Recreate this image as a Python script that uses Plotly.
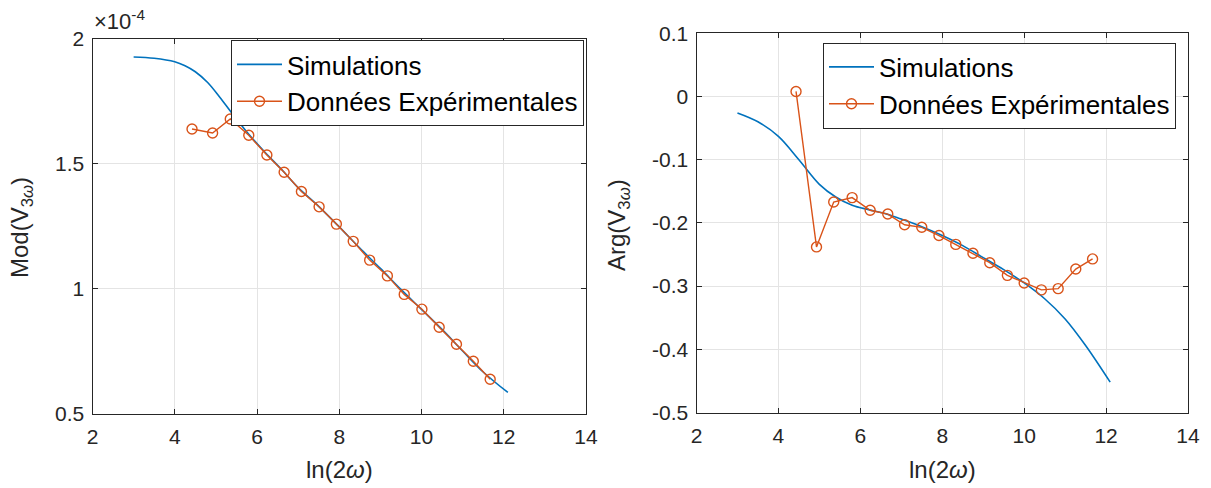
import plotly.graph_objects as go

# ---------------- data ----------------
# experimental abscissa ln(2*omega)
x_exp = [4.42, 4.92, 5.35, 5.80, 6.24, 6.66, 7.08, 7.51, 7.93, 8.34,
         8.74, 9.17, 9.58, 10.01, 10.43, 10.85, 11.26, 11.67]
# modulus (in units of 1e-4)
mod_exp = [1.639, 1.623, 1.679, 1.614, 1.535, 1.466, 1.389, 1.328, 1.259, 1.190,
           1.115, 1.052, 0.978, 0.919, 0.847, 0.779, 0.711, 0.639]
# argument
x_exp_arg = [4.43, 4.93, 5.35, 5.80, 6.24, 6.67, 7.08, 7.50, 7.92, 8.33,
             8.75, 9.16, 9.59, 10.00, 10.42, 10.83, 11.26, 11.67]
arg_exp = [0.008, -0.238, -0.167, -0.160, -0.180, -0.186, -0.203, -0.207, -0.220, -0.234,
           -0.248, -0.263, -0.283, -0.295, -0.306, -0.304, -0.273, -0.257]

# simulations
x_sim_mod = [3.0, 3.5, 4.0, 4.25, 4.5, 4.8, 5.1, 5.4, 5.8, 6.2, 6.6, 7.0, 7.5, 8.0,
             8.5, 9.0, 9.5, 10.0, 10.5, 11.0, 11.5, 12.1]
mod_sim = [1.927, 1.922, 1.908, 1.892, 1.868, 1.825, 1.765, 1.700, 1.618, 1.545, 1.477,
           1.405, 1.330, 1.248, 1.163, 1.082, 0.998, 0.918, 0.838, 0.752, 0.668, 0.586]
x_sim_arg = [3.0, 3.5, 4.0, 4.5, 5.0, 5.4, 5.8, 6.2, 6.6, 7.0, 7.5, 8.0, 8.5,
             9.0, 9.5, 10.0, 10.5, 11.0, 11.5, 12.1]
arg_sim = [-0.026, -0.040, -0.063, -0.100, -0.139, -0.159, -0.172, -0.179, -0.185, -0.194,
           -0.206, -0.220, -0.236, -0.255, -0.274, -0.295, -0.320, -0.352, -0.394, -0.452]

x_ticks = [2, 4, 6, 8, 10, 12, 14]
mod_ticks = [0.5, 1, 1.5, 2]
mod_ticktext = ["0.5", "1", "1.5", "2"]
arg_ticks = [-0.5, -0.4, -0.3, -0.2, -0.1, 0, 0.1]
arg_ticktext = ["-0.5", "-0.4", "-0.3", "-0.2", "-0.1", "0", "0.1"]

# ---------------- style ----------------
W, H = 1211, 488
BLUE = "#0072BD"
ORANGE = "#D95319"
AX = "#262626"
GRID = "#e4e4e4"
FONT = "Liberation Sans, Arial, sans-serif"

def px_x(p):
    return p / W

def px_y(p):
    return 1 - p / H

fig = go.Figure()

fig.add_trace(go.Scatter(x=x_sim_mod, y=mod_sim, mode="lines", name="Simulations",
                         line=dict(color=BLUE, width=1.6, shape="spline", smoothing=1.0),
                         xaxis="x", yaxis="y", legend="legend"))
fig.add_trace(go.Scatter(x=x_exp, y=mod_exp, mode="lines+markers", name="Données Expérimentales",
                         line=dict(color=ORANGE, width=1.4),
                         marker=dict(symbol="circle-open", size=10, color=ORANGE, line=dict(width=1.4)),
                         xaxis="x", yaxis="y", legend="legend"))
fig.add_trace(go.Scatter(x=x_sim_arg, y=arg_sim, mode="lines", name="Simulations",
                         line=dict(color=BLUE, width=1.6, shape="spline", smoothing=1.0),
                         xaxis="x2", yaxis="y2", legend="legend2"))
fig.add_trace(go.Scatter(x=x_exp_arg, y=arg_exp, mode="lines+markers", name="Données Expérimentales",
                         line=dict(color=ORANGE, width=1.4),
                         marker=dict(symbol="circle-open", size=10, color=ORANGE, line=dict(width=1.4)),
                         xaxis="x2", yaxis="y2", legend="legend2"))

common = dict(showline=True, linecolor=AX, linewidth=1, mirror="ticks",
              ticks="inside", ticklen=5, tickcolor=AX, tickwidth=1,
              showgrid=True, gridcolor=GRID, gridwidth=1, zeroline=False,
              tickfont=dict(family=FONT, size=21, color=AX), automargin=False)

fig.update_layout(
    width=W, height=H,
    margin=dict(l=0, r=0, t=0, b=0),
    paper_bgcolor="white", plot_bgcolor="white",
    font=dict(family=FONT, color=AX),
    xaxis=dict(domain=[px_x(92.5), px_x(586)], range=[2, 14], tickvals=x_ticks,
               anchor="y", ticklabelstandoff=4, **common),
    yaxis=dict(domain=[px_y(414), px_y(38.7)], range=[0.5, 2], tickvals=mod_ticks,
               ticktext=mod_ticktext, anchor="x", ticklabelstandoff=3, **common),
    xaxis2=dict(domain=[px_x(696.5), px_x(1188)], range=[2, 14], tickvals=x_ticks,
                anchor="y2", ticklabelstandoff=4, **common),
    yaxis2=dict(domain=[px_y(412.5), px_y(33.3)], range=[-0.5, 0.1], tickvals=arg_ticks,
                ticktext=arg_ticktext, anchor="x2", ticklabelstandoff=3, **common),
    legend=dict(x=px_x(584), xanchor="right", y=px_y(40), yanchor="top",
                bgcolor="white", bordercolor=AX, borderwidth=1,
                font=dict(family=FONT, size=26, color="black"), itemwidth=45,
                tracegroupgap=0),
    legend2=dict(x=px_x(1176), xanchor="right", y=px_y(42.5), yanchor="top",
                 bgcolor="white", bordercolor=AX, borderwidth=1,
                 font=dict(family=FONT, size=26, color="black"), itemwidth=45,
                 tracegroupgap=0),
    showlegend=True,
)

ann_font = dict(family=FONT, size=24, color=AX)
fig.add_annotation(text="Mod(V<sub>3<i>ω</i></sub>)", xref="paper", yref="paper",
                   x=px_x(22), y=px_y(228), textangle=-90, showarrow=False,
                   xanchor="center", yanchor="middle", font=ann_font)
fig.add_annotation(text="Arg(V<sub>3<i>ω</i></sub>)", xref="paper", yref="paper",
                   x=px_x(618), y=px_y(225), textangle=-90, showarrow=False,
                   xanchor="center", yanchor="middle", font=ann_font)
fig.add_annotation(text="ln(2<i>ω</i>)", xref="paper", yref="paper",
                   x=px_x(339), y=px_y(469), showarrow=False,
                   xanchor="center", yanchor="middle", font=ann_font)
fig.add_annotation(text="ln(2<i>ω</i>)", xref="paper", yref="paper",
                   x=px_x(942), y=px_y(469), showarrow=False,
                   xanchor="center", yanchor="middle", font=ann_font)
fig.add_annotation(text="×10<sup>-4</sup>", xref="paper", yref="paper",
                   x=px_x(92), y=px_y(36), showarrow=False,
                   xanchor="left", yanchor="bottom",
                   font=dict(family=FONT, size=22, color=AX))

fig.write_html("out.html", config={"displayModeBar": False},
               post_script="document.body.style.margin='0px';")
